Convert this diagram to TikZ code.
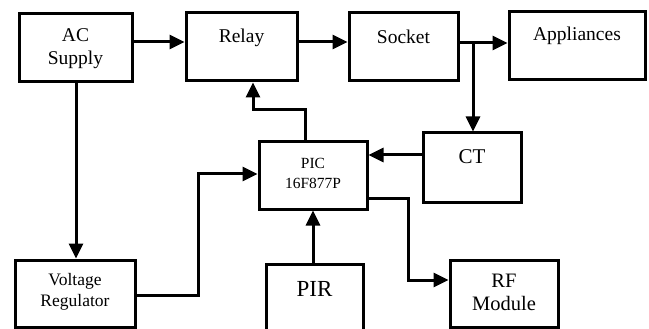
\documentclass[tikz,border=0pt]{standalone}
\usepackage{fontspec}
\setmainfont{Liberation Serif}
\usetikzlibrary{arrows.meta}
\begin{document}
\begin{tikzpicture}[x=1pt,y=-1pt,
  blk/.style={draw=black, line width=3pt, rectangle, inner sep=0pt, fill=white},
  lbl/.style={align=center, font=\fontsize{19.5}{23}\selectfont},
  arr/.style={line width=3pt, -{Triangle[length=15pt,width=14pt]}}]
\useasboundingbox (0,0) rectangle (649,329);
\begin{scope}
\clip (0,0) rectangle (649,329);
% boxes
\node[blk, minimum width=113pt, minimum height=68pt] (ac) at (75.5,48) {};
\node[lbl] (acT) at (75.5,49) {AC\\Supply};
\node[blk, minimum width=111pt, minimum height=68pt] (relay) at (241.5,47) {};
\node[lbl] (relayT) at (241.5,38) {Relay};
\node[blk, minimum width=109pt, minimum height=68pt] (socket) at (403.5,47) {};
\node[lbl] (socketT) at (403.5,37) {Socket};
\node[blk, minimum width=136pt, minimum height=68pt] (app) at (577,46) {};
\node[lbl] (appT) at (577,36) {Appliances};
\node[blk, minimum width=98pt, minimum height=69pt] (ct) at (472,167.5) {};
\node[lbl, font=\fontsize{21}{24}\selectfont] (ctT) at (472,157) {CT};
\node[blk, minimum width=108pt, minimum height=67pt] (pic) at (313,175.5) {};
\node[lbl, font=\fontsize{15.5}{20}\selectfont] (picT) at (313,173) {PIC\\16F877P};
\node[blk, minimum width=120pt, minimum height=67pt] (vr) at (75,293.5) {};
\node[lbl, font=\fontsize{17.5}{20.5}\selectfont] (vrT) at (75,292) {Voltage\\Regulator};
\node[blk, minimum width=97pt, minimum height=90pt] (pir) at (314.5,309) {};
\node[lbl, font=\fontsize{23}{26}\selectfont] (pirT) at (314.5,289) {PIR};
\node[blk, minimum width=108pt, minimum height=67pt] (rf) at (504,293.5) {};
\node[lbl, font=\fontsize{20.5}{23}\selectfont] (rfT) at (504,292) {RF\\Module};
\end{scope}
% connectors
\draw[arr] (ac.east |- 0,42) -- (relay.west |- 0,42);
\draw[arr] (relay.east |- 0,42) -- (socket.west |- 0,42);
\draw[arr] (socket.east |- 0,43) -- (app.west |- 0,43);
\coordinate (br) at (473,43);
\draw[arr] (br) -- (br |- ct.north);
\draw[arr] (ct.west |- 0,155) -- (pic.east |- 0,155);
\draw[arr] (pic.north -| 305,0) -- (305,110) -- (253,110) -- (relay.south -| 253,0);
\draw[arr] (ac.south -| 76,0) -- (vr.north -| 76,0);
\draw[arr] (vr.east |- 0,295) -- (198,295) -- (198,174) -- (pic.west |- 0,174);
\draw[arr] (pir.north -| 313,0) -- (pic.south -| 313,0);
\draw[arr] (pic.east |- 0,198) -- (408,198) -- (408,280) -- (rf.west |- 0,280);
\end{tikzpicture}
\end{document}
